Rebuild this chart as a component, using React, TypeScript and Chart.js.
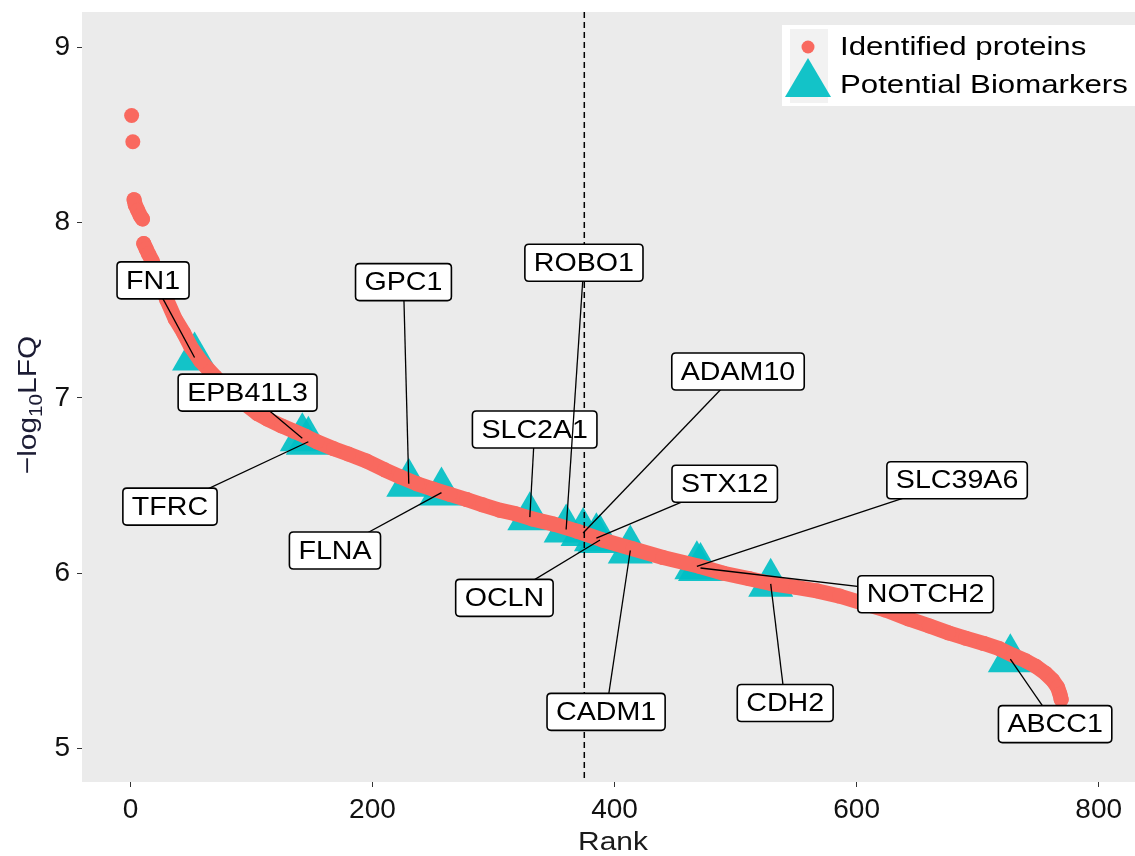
import React, { useEffect, useRef } from 'react';
import { Chart, registerables } from 'chart.js';

Chart.register(...registerables);

const FONT = '"Liberation Sans", Arial, Helvetica, sans-serif';
const RED = '#F9695F';
const TEAL = 'rgba(0, 191, 196, 0.92)';

// Identified proteins (rank vs -log10 LFQ)
const proteinRank = [1, 2, 3, 4, 6, 8, 10, 11, 13, 15, 18, 22, 26, 30, 37, 44, 50, 58, 70, 80, 90, 105, 113, 125, 135, 145, 154, 168, 180, 195, 210, 223, 237, 250, 264, 278, 291, 305, 318, 332, 350, 369, 390, 415, 440, 470, 490, 511, 530, 550, 567, 586, 605, 624, 643, 660, 676, 690, 705, 718, 730, 740, 748, 756, 762, 766, 768, 769];
const proteinLFQ = [8.61, 8.46, 8.13, 8.10, 8.07, 8.04, 8.02, 7.88, 7.85, 7.82, 7.78, 7.70, 7.63, 7.56, 7.45, 7.37, 7.29, 7.21, 7.12, 7.05, 6.99, 6.91, 6.88, 6.84, 6.81, 6.78, 6.75, 6.71, 6.68, 6.64, 6.59, 6.55, 6.51, 6.48, 6.45, 6.42, 6.39, 6.36, 6.34, 6.31, 6.28, 6.24, 6.19, 6.14, 6.09, 6.04, 6.00, 5.97, 5.94, 5.92, 5.90, 5.87, 5.83, 5.79, 5.74, 5.70, 5.66, 5.63, 5.60, 5.57, 5.53, 5.50, 5.47, 5.43, 5.39, 5.35, 5.31, 5.28];
// ranks after which the drawn band is interrupted (isolated top points)
const gapAfterRank = [1, 2, 10];

// Potential biomarkers
const markerNames = ['FN1', 'EPB41L3', 'TFRC', 'GPC1', 'FLNA', 'SLC2A1', 'OCLN', 'STX12', 'ADAM10', 'ROBO1', 'CADM1', 'SLC39A6', 'NOTCH2', 'CDH2', 'ABCC1'];
const markerRank = [53, 142, 147, 230, 257, 330, 388, 385, 374, 360, 413, 468, 471, 529, 727];
const markerLFQ = [7.23, 6.77, 6.75, 6.51, 6.46, 6.32, 6.19, 6.20, 6.23, 6.25, 6.13, 6.04, 6.03, 5.94, 5.51];
// label box centres (data coordinates)
const labelRank = [18.7, 96.8, 32.7, 225.6, 169, 334, 309, 491, 502, 374.7, 393, 683, 657, 541, 764];
const labelLFQ = [7.67, 7.03, 6.38, 7.66, 6.13, 6.82, 5.86, 6.51, 7.15, 7.77, 5.21, 6.53, 5.88, 5.26, 5.14];

const xTicks = [0, 200, 400, 600, 800];
const yTicks = [5, 6, 7, 8, 9];
const cutoffRank = 375;

function stretchedText(ctx: CanvasRenderingContext2D, text: string, x: number, y: number, sx: number, align: 'left' | 'center') {
  ctx.save();
  ctx.translate(x, y);
  ctx.scale(sx, 1);
  ctx.textAlign = align;
  ctx.textBaseline = 'middle';
  ctx.fillText(text, 0, 0);
  ctx.restore();
}

function roundRectPath(ctx: CanvasRenderingContext2D, x: number, y: number, w: number, h: number, r: number) {
  ctx.beginPath();
  ctx.moveTo(x + r, y);
  ctx.lineTo(x + w - r, y);
  ctx.quadraticCurveTo(x + w, y, x + w, y + r);
  ctx.lineTo(x + w, y + h - r);
  ctx.quadraticCurveTo(x + w, y + h, x + w - r, y + h);
  ctx.lineTo(x + r, y + h);
  ctx.quadraticCurveTo(x, y + h, x, y + h - r);
  ctx.lineTo(x, y + r);
  ctx.quadraticCurveTo(x, y, x + r, y);
  ctx.closePath();
}

const decorPlugin = {
  id: 'decor',
  beforeDraw(chart: any) {
    const { ctx, chartArea: a } = chart;
    ctx.save();
    ctx.fillStyle = '#FFFFFF';
    ctx.fillRect(0, 0, chart.width, chart.height);
    ctx.fillStyle = '#EBEBEB';
    ctx.fillRect(a.left, a.top, a.right - a.left, a.bottom - a.top);
    ctx.restore();
  },
  afterDatasetsDraw(chart: any) {
    const { ctx, chartArea: a } = chart;
    const xs = chart.scales.x;
    const ys = chart.scales.y;
    ctx.save();
    // cutoff line
    const vx = xs.getPixelForValue(cutoffRank);
    ctx.strokeStyle = '#000';
    ctx.lineWidth = 1.5;
    ctx.setLineDash([6, 4]);
    ctx.beginPath();
    ctx.moveTo(vx, a.top);
    ctx.lineTo(vx, a.bottom);
    ctx.stroke();
    ctx.setLineDash([]);

    // labels with leader segments
    markerNames.forEach((name, i) => {
      const px = xs.getPixelForValue(markerRank[i]);
      const py = ys.getPixelForValue(markerLFQ[i]);
      const lx = xs.getPixelForValue(labelRank[i]);
      const ly = ys.getPixelForValue(labelLFQ[i]);
      ctx.font = `26px ${FONT}`;
      const w = ctx.measureText(name).width * 1.1 + 18;
      const h = 37;
      ctx.strokeStyle = '#000';
      ctx.lineWidth = 1.3;
      ctx.beginPath();
      ctx.moveTo(lx, ly);
      ctx.lineTo(px, py);
      ctx.stroke();
      roundRectPath(ctx, lx - w / 2, ly - h / 2, w, h, 4);
      ctx.fillStyle = '#FFFFFF';
      ctx.fill();
      ctx.lineWidth = 1.6;
      ctx.stroke();
      ctx.fillStyle = '#000';
      stretchedText(ctx, name, lx, ly + 1, 1.1, 'center');
    });

    // legend
    ctx.fillStyle = '#FFFFFF';
    ctx.fillRect(782, 25, 353, 81);
    ctx.fillStyle = '#F2F2F2';
    ctx.fillRect(790, 29, 38, 74);
    ctx.fillStyle = RED;
    ctx.beginPath();
    ctx.arc(808, 47, 6.5, 0, Math.PI * 2);
    ctx.fill();
    ctx.fillStyle = TEAL;
    ctx.beginPath();
    ctx.moveTo(808, 58);
    ctx.lineTo(808 + 23, 97);
    ctx.lineTo(808 - 23, 97);
    ctx.closePath();
    ctx.fill();
    ctx.fillStyle = '#000';
    ctx.font = `26px ${FONT}`;
    stretchedText(ctx, 'Identified proteins', 840, 48, 1.2, 'left');
    stretchedText(ctx, 'Potential Biomarkers', 840, 86, 1.2, 'left');

    // axis titles
    ctx.fillStyle = '#1a1a1a';
    ctx.font = `26px ${FONT}`;
    stretchedText(ctx, 'Rank', 613, 843, 1.15, 'center');

    ctx.fillStyle = '#1c1c34';
    ctx.translate(27, 405);
    ctx.rotate(-Math.PI / 2);
    ctx.scale(1.15, 1);
    ctx.textBaseline = 'alphabetic';
    ctx.textAlign = 'left';
    ctx.font = `26px ${FONT}`;
    const p1 = '\u2212log';
    const p3 = 'LFQ';
    const w1 = ctx.measureText(p1).width;
    const w3 = ctx.measureText(p3).width;
    ctx.font = `18px ${FONT}`;
    const w2 = ctx.measureText('10').width;
    let x0 = -(w1 + w2 + w3) / 2;
    ctx.font = `26px ${FONT}`;
    ctx.fillText(p1, x0, 9);
    x0 += w1;
    ctx.font = `18px ${FONT}`;
    ctx.fillText('10', x0, 15);
    x0 += w2;
    ctx.font = `26px ${FONT}`;
    ctx.fillText(p3, x0, 9);
    ctx.restore();
  },
};

export default function App() {
  const ref = useRef<HTMLCanvasElement | null>(null);
  useEffect(() => {
    document.body.style.margin = '0';
    const canvas = ref.current;
    if (!canvas) return;
    const chart = new Chart(canvas, {
      type: 'scatter',
      data: {
        datasets: [
          {
            label: 'Identified proteins',
            data: proteinRank.map((r, i) => ({ x: r, y: proteinLFQ[i] })),
            showLine: true,
            borderColor: RED,
            backgroundColor: RED,
            pointBackgroundColor: RED,
            borderWidth: 15,
            borderCapStyle: 'round',
            borderJoinStyle: 'round',
            pointRadius: 7.5,
            pointHoverRadius: 7.5,
            pointBorderWidth: 0,
            segment: {
              borderColor: (c: any) => (gapAfterRank.includes(c.p0.parsed.x) ? 'rgba(0,0,0,0)' : undefined),
            },
            order: 0,
          } as any,
          {
            label: 'Potential Biomarkers',
            data: markerRank.map((r, i) => ({ x: r, y: markerLFQ[i] })),
            pointStyle: 'triangle',
            pointRadius: 26,
            pointHoverRadius: 26,
            backgroundColor: TEAL,
            pointBackgroundColor: TEAL,
            pointBorderWidth: 0,
            borderWidth: 0,
            order: 1,
          } as any,
        ],
      },
      options: {
        animation: false,
        responsive: false,
        devicePixelRatio: 1,
        events: [],
        layout: { autoPadding: false, padding: { top: 12, left: 0, right: 0, bottom: 0 } },
        plugins: { legend: { display: false }, tooltip: { enabled: false } },
        scales: {
          x: {
            type: 'linear',
            min: -40,
            max: 830,
            afterBuildTicks: (s: any) => {
              s.ticks = xTicks.map((v) => ({ value: v }));
            },
            afterFit: (s: any) => {
              s.height = 74;
              s.paddingLeft = 0;
              s.paddingRight = 0;
              s.paddingTop = 0;
              s.paddingBottom = 0;
            },
            ticks: { font: { family: FONT, size: 28 }, color: '#111', padding: 6, maxRotation: 0 },
            grid: { display: true, drawOnChartArea: false, drawTicks: true, tickLength: 5, tickColor: '#333', tickWidth: 1 },
            border: { display: false },
          },
          y: {
            type: 'linear',
            min: 4.81,
            max: 9.2,
            afterBuildTicks: (s: any) => {
              s.ticks = yTicks.map((v) => ({ value: v }));
            },
            afterFit: (s: any) => {
              s.width = 82;
              s.paddingLeft = 0;
              s.paddingRight = 0;
              s.paddingTop = 0;
              s.paddingBottom = 0;
            },
            ticks: { font: { family: FONT, size: 28 }, color: '#111', padding: 7 },
            grid: { display: true, drawOnChartArea: false, drawTicks: true, tickLength: 5, tickColor: '#333', tickWidth: 1 },
            border: { display: false },
          },
        },
      } as any,
      plugins: [decorPlugin],
    });
    return () => chart.destroy();
  }, []);
  return (
    <div style={{ width: 1135, height: 856 }}>
      <canvas ref={ref} width={1135} height={856} style={{ display: 'block' }} />
    </div>
  );
}
